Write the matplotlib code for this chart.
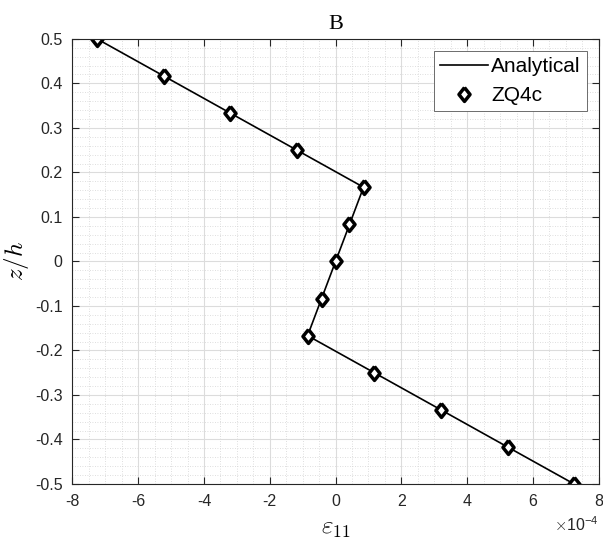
import matplotlib
matplotlib.use("Agg")
import matplotlib.pyplot as plt
import numpy as np
from matplotlib.ticker import MultipleLocator, FuncFormatter

# through-thickness strain profile
z_over_h = [0.5, 0.4167, 0.3333, 0.25, 0.1667, 0.0833, 0.0,
            -0.0833, -0.1667, -0.25, -0.3333, -0.4167, -0.5]
eps_analytical = [-7.25e-4, -5.225e-4, -3.2e-4, -1.175e-4, 0.85e-4, 0.425e-4, 0.0,
                  -0.425e-4, -0.85e-4, 1.175e-4, 3.2e-4, 5.225e-4, 7.25e-4]
eps_zq4c = [-7.25e-4, -5.22e-4, -3.2e-4, -1.17e-4, 0.85e-4, 0.42e-4, 0.0,
            -0.42e-4, -0.85e-4, 1.17e-4, 3.2e-4, 5.23e-4, 7.25e-4]
x_scale = 1e-4

plt.rcParams.update({
    "font.family": "Liberation Sans",
    "mathtext.fontset": "cm",
    "axes.unicode_minus": False,
})

edge = "#262626"
diamond = [(0, 1), (0.8, 0), (0, -1), (-0.8, 0), (0, 1)]

fig = plt.figure(figsize=(6.03, 5.40), dpi=100)
ax = fig.add_axes([0.12, 0.1037, 0.873, 0.8243])

ax.plot(eps_analytical, z_over_h, color="black", linewidth=1.2, label="Analytical")
ax.plot(eps_zq4c, z_over_h, linestyle="none", marker=diamond, markersize=10,
        markerfacecolor="white", markeredgecolor="black", markeredgewidth=2.5,
        label="ZQ4c")

ax.set_xlim(-8e-4, 8e-4)
ax.set_ylim(-0.5, 0.5)
ax.xaxis.set_major_locator(MultipleLocator(2e-4))
ax.xaxis.set_minor_locator(MultipleLocator(0.5e-4))
ax.yaxis.set_major_locator(MultipleLocator(0.1))
ax.yaxis.set_minor_locator(MultipleLocator(0.02))


def fmt_x(v, pos):
    return f"{round(v / x_scale):d}"


def fmt_y(v, pos):
    if abs(v) < 1e-9:
        return "0"
    return f"{v:.1f}"


ax.xaxis.set_major_formatter(FuncFormatter(fmt_x))
ax.yaxis.set_major_formatter(FuncFormatter(fmt_y))

ax.grid(which="major", color="#dcdcdc", linewidth=0.8)
ax.grid(which="minor", color="#d4d4d4", linewidth=0.6, linestyle=(0, (1, 2)))
ax.set_axisbelow(True)

ax.tick_params(which="both", direction="in", top=True, right=True,
               colors=edge, labelsize=11.5, pad=7)
ax.tick_params(which="major", length=5)
ax.tick_params(which="minor", length=0)
for s in ax.spines.values():
    s.set_color(edge)
    s.set_linewidth(0.8)

# exponent label, MATLAB style, below the right end of the x axis
ax.annotate(r"$\times$10$\mathregular{^{-4}}$", xy=(1, 0), xycoords="axes fraction",
            xytext=(0, -41), textcoords="offset pixels", ha="right", va="center",
            fontsize=11.5, color=edge)

ax.set_title("B", family="Liberation Serif", fontsize=16, pad=7)
ax.set_xlabel(r"$\varepsilon_{11}$", fontsize=18, labelpad=5)
ax.set_ylabel(r"$z/h$", fontsize=18, labelpad=3)

leg = ax.legend(loc="upper right", fontsize=15, fancybox=False, framealpha=1,
                edgecolor="#555555", borderaxespad=0.56, handlelength=2.3,
                handletextpad=0.15, borderpad=0.3, labelspacing=0.5)
leg.get_frame().set_linewidth(0.6)

fig.savefig("out.png", dpi=100)
